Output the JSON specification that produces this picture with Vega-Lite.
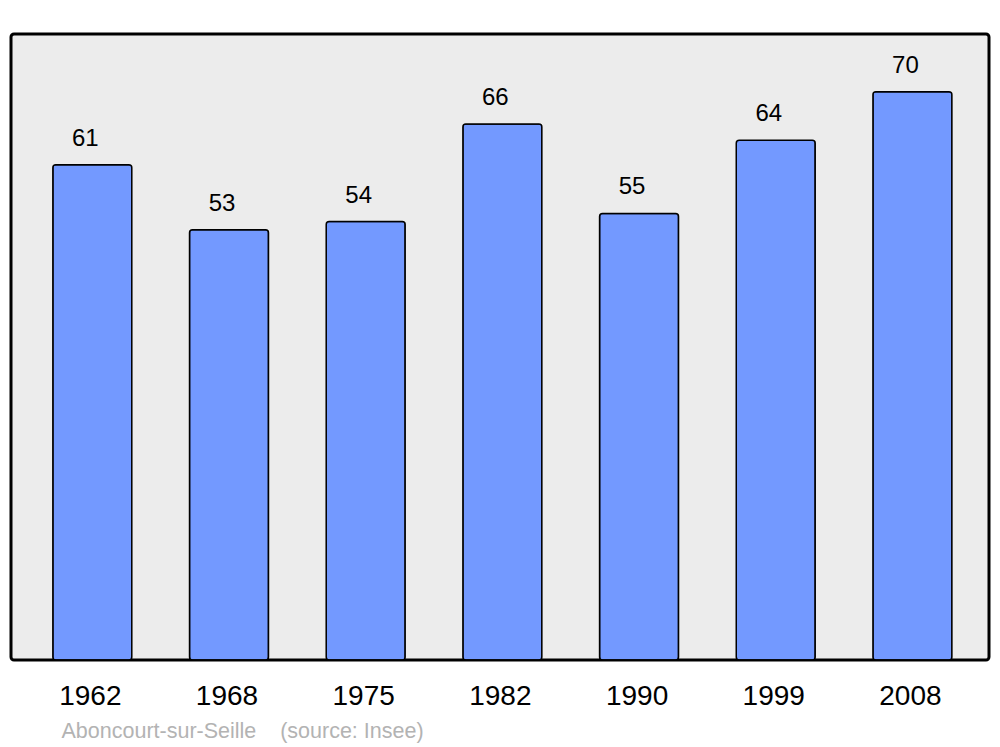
{
  "$schema": "https://vega.github.io/schema/vega-lite/v6.json",
  "width": 978,
  "height": 626,
  "autosize": "none",
  "padding": {"left": 11, "top": 34, "right": 11, "bottom": 87},
  "background": "#ffffff",
  "config": {
    "view": {"fill": "#ececec", "stroke": "#000000", "strokeWidth": 3, "cornerRadius": 3},
    "font": "Liberation Sans"
  },
  "data": {
    "values": [
      {"year": "1962", "pop": 61},
      {"year": "1968", "pop": 53},
      {"year": "1975", "pop": 54},
      {"year": "1982", "pop": 66},
      {"year": "1990", "pop": 55},
      {"year": "1999", "pop": 64},
      {"year": "2008", "pop": 70}
    ]
  },
  "encoding": {
    "x": {
      "field": "year",
      "type": "ordinal",
      "sort": null,
      "scale": {"paddingInner": 0.4223, "paddingOuter": 0.2888, "align": 0.53},
      "axis": {
        "title": "Aboncourt-sur-Seille\u00a0\u00a0\u00a0 (source: Insee)",
        "titleFont": "Liberation Sans",
        "titleFontSize": 21.5,
        "titleFontWeight": "normal",
        "titleColor": "#b3b3b3",
        "titleAnchor": "start",
        "titleAlign": "left",
        "titleBaseline": "alphabetic",
        "titleX": 50,
        "titleY": 77,
        "labelAngle": 0,
        "labelFont": "Liberation Sans",
        "labelFontSize": 28,
        "labelColor": "#000000",
        "labelPadding": 22,
        "labelOffset": -2,
        "ticks": false,
        "domain": false,
        "grid": false
      }
    },
    "y": {
      "field": "pop",
      "type": "quantitative",
      "scale": {"domain": [0, 77.1], "nice": false},
      "axis": null
    }
  },
  "layer": [
    {
      "mark": {"type": "bar", "fill": "#7399ff", "stroke": "#000000", "strokeWidth": 1.5, "cornerRadius": 3}
    },
    {
      "mark": {"type": "text", "dy": -19, "dx": -7, "baseline": "alphabetic", "fontSize": 24, "font": "Liberation Sans", "color": "#000000"},
      "encoding": {"text": {"field": "pop", "type": "quantitative"}}
    }
  ]
}
